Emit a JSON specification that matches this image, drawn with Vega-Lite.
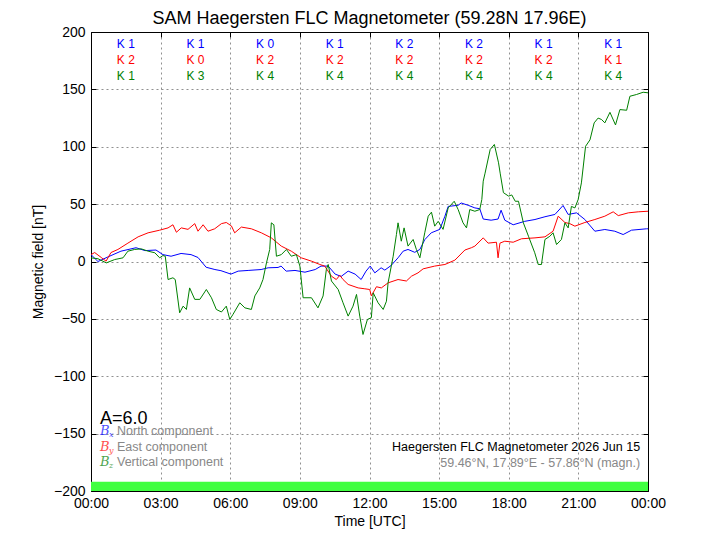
{
  "$schema": "https://vega.github.io/schema/vega-lite/v6.json",
  "width": 557,
  "height": 459,
  "autosize": "none",
  "padding": {"left": 91, "top": 32, "right": 72, "bottom": 49},
  "background": "#ffffff",
  "title": {"text": "SAM Haegersten FLC Magnetometer (59.28N 17.96E)", "fontSize": 18, "fontWeight": "normal", "font": "Liberation Sans", "color": "#000000", "offset": -3, "anchor": "middle"},
  "config": {
    "view": {"stroke": "#000000", "strokeWidth": 1},
    "font": "Liberation Sans",
    "axis": {"labelFont": "Liberation Sans", "titleFont": "Liberation Sans", "labelColor": "#000000", "titleColor": "#000000", "titleFontWeight": "normal"}
  },
  "datasets": {
    "bar": [{"t0": 0, "t1": 24, "v0": -200, "v1": -192}],
    "lines": [
      {"c": "Bx", "t": 0.0, "v": 6}, {"c": "Bx", "t": 0.3, "v": 0}, {"c": "Bx", "t": 0.73, "v": 4}, {"c": "Bx", "t": 1.29, "v": 9}, {"c": "Bx", "t": 1.94, "v": 12}, {"c": "Bx", "t": 2.33, "v": 9.5}, {"c": "Bx", "t": 2.8, "v": 10}, {"c": "Bx", "t": 3.1, "v": 6}, {"c": "Bx", "t": 3.45, "v": 4.6}, {"c": "Bx", "t": 3.88, "v": 7}, {"c": "Bx", "t": 4.31, "v": 6}, {"c": "Bx", "t": 4.61, "v": 3.5}, {"c": "Bx", "t": 4.96, "v": -5}, {"c": "Bx", "t": 5.34, "v": -7}, {"c": "Bx", "t": 5.6, "v": -8}, {"c": "Bx", "t": 6.03, "v": -11}, {"c": "Bx", "t": 6.34, "v": -8.4}, {"c": "Bx", "t": 6.77, "v": -7.8}, {"c": "Bx", "t": 7.33, "v": -7}, {"c": "Bx", "t": 7.63, "v": -5.5}, {"c": "Bx", "t": 8.06, "v": -5.2}, {"c": "Bx", "t": 8.19, "v": -4}, {"c": "Bx", "t": 8.41, "v": -8.4}, {"c": "Bx", "t": 8.79, "v": -7.8}, {"c": "Bx", "t": 9.22, "v": -9.3}, {"c": "Bx", "t": 9.66, "v": -7}, {"c": "Bx", "t": 9.91, "v": -4}, {"c": "Bx", "t": 10.22, "v": -4}, {"c": "Bx", "t": 10.52, "v": -11}, {"c": "Bx", "t": 10.78, "v": -13}, {"c": "Bx", "t": 11.08, "v": -8.4}, {"c": "Bx", "t": 11.38, "v": -11}, {"c": "Bx", "t": 11.64, "v": -15.7}, {"c": "Bx", "t": 11.85, "v": -8.4}, {"c": "Bx", "t": 12.03, "v": -4}, {"c": "Bx", "t": 12.23, "v": -9.9}, {"c": "Bx", "t": 12.5, "v": -5.5}, {"c": "Bx", "t": 12.66, "v": -7.5}, {"c": "Bx", "t": 12.93, "v": -3.5}, {"c": "Bx", "t": 13.23, "v": 3.2}, {"c": "Bx", "t": 13.45, "v": 9}, {"c": "Bx", "t": 13.66, "v": 10.5}, {"c": "Bx", "t": 13.95, "v": 8}, {"c": "Bx", "t": 14.17, "v": 10.5}, {"c": "Bx", "t": 14.38, "v": 19}, {"c": "Bx", "t": 14.66, "v": 25}, {"c": "Bx", "t": 15.03, "v": 28}, {"c": "Bx", "t": 15.25, "v": 39.5}, {"c": "Bx", "t": 15.39, "v": 48}, {"c": "Bx", "t": 15.82, "v": 49}, {"c": "Bx", "t": 15.95, "v": 51}, {"c": "Bx", "t": 16.25, "v": 49}, {"c": "Bx", "t": 16.54, "v": 46.7}, {"c": "Bx", "t": 16.75, "v": 46}, {"c": "Bx", "t": 16.9, "v": 37}, {"c": "Bx", "t": 17.24, "v": 36}, {"c": "Bx", "t": 17.54, "v": 37}, {"c": "Bx", "t": 17.67, "v": 44.7}, {"c": "Bx", "t": 17.83, "v": 36}, {"c": "Bx", "t": 18.19, "v": 32}, {"c": "Bx", "t": 18.69, "v": 35}, {"c": "Bx", "t": 19.13, "v": 36.6}, {"c": "Bx", "t": 19.56, "v": 39}, {"c": "Bx", "t": 19.99, "v": 41}, {"c": "Bx", "t": 20.34, "v": 48.8}, {"c": "Bx", "t": 20.56, "v": 41}, {"c": "Bx", "t": 20.92, "v": 42.4}, {"c": "Bx", "t": 21.28, "v": 36.6}, {"c": "Bx", "t": 21.71, "v": 26.4}, {"c": "Bx", "t": 22.14, "v": 27.9}, {"c": "Bx", "t": 22.57, "v": 26.4}, {"c": "Bx", "t": 22.93, "v": 23.5}, {"c": "Bx", "t": 23.29, "v": 27.3}, {"c": "Bx", "t": 23.94, "v": 28.5}, {"c": "Bx", "t": 24.0, "v": 28.5},
      {"c": "By", "t": 0.0, "v": 6}, {"c": "By", "t": 0.16, "v": 7.8}, {"c": "By", "t": 0.44, "v": 3.5}, {"c": "By", "t": 0.65, "v": 0.3}, {"c": "By", "t": 0.86, "v": 7.8}, {"c": "By", "t": 1.16, "v": 10.5}, {"c": "By", "t": 1.59, "v": 16}, {"c": "By", "t": 2.03, "v": 21.5}, {"c": "By", "t": 2.46, "v": 25}, {"c": "By", "t": 2.96, "v": 27.3}, {"c": "By", "t": 3.32, "v": 29.3}, {"c": "By", "t": 3.53, "v": 32}, {"c": "By", "t": 3.68, "v": 25.5}, {"c": "By", "t": 3.89, "v": 29.3}, {"c": "By", "t": 4.18, "v": 28}, {"c": "By", "t": 4.47, "v": 33}, {"c": "By", "t": 4.61, "v": 26.4}, {"c": "By", "t": 4.83, "v": 32}, {"c": "By", "t": 5.04, "v": 26.4}, {"c": "By", "t": 5.33, "v": 28.5}, {"c": "By", "t": 5.62, "v": 33}, {"c": "By", "t": 5.83, "v": 34}, {"c": "By", "t": 6.05, "v": 31}, {"c": "By", "t": 6.19, "v": 25}, {"c": "By", "t": 6.48, "v": 30}, {"c": "By", "t": 6.91, "v": 28.5}, {"c": "By", "t": 7.34, "v": 25}, {"c": "By", "t": 7.77, "v": 20.6}, {"c": "By", "t": 8.2, "v": 13.4}, {"c": "By", "t": 8.63, "v": 9}, {"c": "By", "t": 9.06, "v": 3.2}, {"c": "By", "t": 9.5, "v": 0.3}, {"c": "By", "t": 9.86, "v": -2.6}, {"c": "By", "t": 10.07, "v": -4}, {"c": "By", "t": 10.36, "v": -12.8}, {"c": "By", "t": 10.57, "v": -15.7}, {"c": "By", "t": 10.72, "v": -12}, {"c": "By", "t": 10.86, "v": -15.7}, {"c": "By", "t": 11.08, "v": -20}, {"c": "By", "t": 11.51, "v": -23}, {"c": "By", "t": 11.8, "v": -23.8}, {"c": "By", "t": 12.01, "v": -24.4}, {"c": "By", "t": 12.08, "v": -30}, {"c": "By", "t": 12.3, "v": -22}, {"c": "By", "t": 12.51, "v": -23}, {"c": "By", "t": 12.8, "v": -18.6}, {"c": "By", "t": 13.23, "v": -15.7}, {"c": "By", "t": 13.59, "v": -17}, {"c": "By", "t": 13.81, "v": -12.8}, {"c": "By", "t": 14.09, "v": -9.9}, {"c": "By", "t": 14.31, "v": -6.4}, {"c": "By", "t": 14.81, "v": -4}, {"c": "By", "t": 15.25, "v": -2.6}, {"c": "By", "t": 15.68, "v": 1.2}, {"c": "By", "t": 16.11, "v": 10}, {"c": "By", "t": 16.39, "v": 12}, {"c": "By", "t": 16.54, "v": 13.4}, {"c": "By", "t": 16.9, "v": 20.6}, {"c": "By", "t": 17.11, "v": 16}, {"c": "By", "t": 17.47, "v": 16.8}, {"c": "By", "t": 17.54, "v": 3.2}, {"c": "By", "t": 17.62, "v": 16}, {"c": "By", "t": 17.83, "v": 17.7}, {"c": "By", "t": 18.19, "v": 16.8}, {"c": "By", "t": 18.55, "v": 19.8}, {"c": "By", "t": 19.13, "v": 20.6}, {"c": "By", "t": 19.56, "v": 21.5}, {"c": "By", "t": 19.91, "v": 26.4}, {"c": "By", "t": 20.13, "v": 39.5}, {"c": "By", "t": 20.42, "v": 34}, {"c": "By", "t": 20.63, "v": 33}, {"c": "By", "t": 20.85, "v": 30.8}, {"c": "By", "t": 21.28, "v": 34}, {"c": "By", "t": 21.71, "v": 36.6}, {"c": "By", "t": 22.14, "v": 39.5}, {"c": "By", "t": 22.5, "v": 43.3}, {"c": "By", "t": 22.72, "v": 40}, {"c": "By", "t": 23.15, "v": 42.4}, {"c": "By", "t": 23.58, "v": 43.3}, {"c": "By", "t": 24.0, "v": 43.8},
      {"c": "Bz", "t": 0.0, "v": 3.2}, {"c": "Bz", "t": 0.3, "v": 2.4}, {"c": "Bz", "t": 0.66, "v": -1.2}, {"c": "Bz", "t": 1.02, "v": 1.7}, {"c": "Bz", "t": 1.38, "v": 3.2}, {"c": "Bz", "t": 1.59, "v": 9}, {"c": "Bz", "t": 1.88, "v": 10.5}, {"c": "Bz", "t": 2.17, "v": 11}, {"c": "Bz", "t": 2.46, "v": 9}, {"c": "Bz", "t": 2.75, "v": 7.6}, {"c": "Bz", "t": 2.96, "v": 3.2}, {"c": "Bz", "t": 3.1, "v": 5.2}, {"c": "Bz", "t": 3.2, "v": 4.6}, {"c": "Bz", "t": 3.32, "v": -15.7}, {"c": "Bz", "t": 3.53, "v": -14.2}, {"c": "Bz", "t": 3.63, "v": -15.7}, {"c": "Bz", "t": 3.82, "v": -44.7}, {"c": "Bz", "t": 3.97, "v": -38.9}, {"c": "Bz", "t": 4.11, "v": -41.8}, {"c": "Bz", "t": 4.25, "v": -23}, {"c": "Bz", "t": 4.47, "v": -33}, {"c": "Bz", "t": 4.69, "v": -33}, {"c": "Bz", "t": 4.97, "v": -24.4}, {"c": "Bz", "t": 5.19, "v": -31.6}, {"c": "Bz", "t": 5.4, "v": -41.8}, {"c": "Bz", "t": 5.62, "v": -44}, {"c": "Bz", "t": 5.83, "v": -38.9}, {"c": "Bz", "t": 5.98, "v": -50.5}, {"c": "Bz", "t": 6.12, "v": -46}, {"c": "Bz", "t": 6.41, "v": -36}, {"c": "Bz", "t": 6.63, "v": -40.4}, {"c": "Bz", "t": 6.91, "v": -41.8}, {"c": "Bz", "t": 7.06, "v": -30}, {"c": "Bz", "t": 7.27, "v": -23}, {"c": "Bz", "t": 7.41, "v": -15.7}, {"c": "Bz", "t": 7.56, "v": -1.2}, {"c": "Bz", "t": 7.7, "v": 10.5}, {"c": "Bz", "t": 7.77, "v": 33.7}, {"c": "Bz", "t": 7.88, "v": 32}, {"c": "Bz", "t": 7.99, "v": 4.6}, {"c": "Bz", "t": 8.2, "v": 6}, {"c": "Bz", "t": 8.42, "v": 10.5}, {"c": "Bz", "t": 8.63, "v": 4.6}, {"c": "Bz", "t": 8.85, "v": 6}, {"c": "Bz", "t": 9.0, "v": -4}, {"c": "Bz", "t": 9.14, "v": -31.6}, {"c": "Bz", "t": 9.5, "v": -31.6}, {"c": "Bz", "t": 9.78, "v": -40.4}, {"c": "Bz", "t": 10.0, "v": -30}, {"c": "Bz", "t": 10.14, "v": -7}, {"c": "Bz", "t": 10.22, "v": -2.6}, {"c": "Bz", "t": 10.36, "v": -17}, {"c": "Bz", "t": 10.65, "v": -24.4}, {"c": "Bz", "t": 10.86, "v": -36}, {"c": "Bz", "t": 11.08, "v": -47.6}, {"c": "Bz", "t": 11.29, "v": -38.9}, {"c": "Bz", "t": 11.44, "v": -28.7}, {"c": "Bz", "t": 11.58, "v": -47.6}, {"c": "Bz", "t": 11.72, "v": -63.6}, {"c": "Bz", "t": 11.91, "v": -50.5}, {"c": "Bz", "t": 12.08, "v": -49}, {"c": "Bz", "t": 12.16, "v": -27.3}, {"c": "Bz", "t": 12.37, "v": -36}, {"c": "Bz", "t": 12.59, "v": -41.8}, {"c": "Bz", "t": 12.73, "v": -34.6}, {"c": "Bz", "t": 12.8, "v": -18.6}, {"c": "Bz", "t": 13.02, "v": 4.6}, {"c": "Bz", "t": 13.16, "v": 23.5}, {"c": "Bz", "t": 13.23, "v": 33.7}, {"c": "Bz", "t": 13.37, "v": 17.7}, {"c": "Bz", "t": 13.49, "v": 29.3}, {"c": "Bz", "t": 13.66, "v": 13.4}, {"c": "Bz", "t": 13.88, "v": 19.2}, {"c": "Bz", "t": 14.02, "v": 10.5}, {"c": "Bz", "t": 14.17, "v": 3.2}, {"c": "Bz", "t": 14.38, "v": 25}, {"c": "Bz", "t": 14.53, "v": 39.5}, {"c": "Bz", "t": 14.67, "v": 43}, {"c": "Bz", "t": 14.81, "v": 30.8}, {"c": "Bz", "t": 14.96, "v": 35}, {"c": "Bz", "t": 15.17, "v": 28}, {"c": "Bz", "t": 15.39, "v": 46.7}, {"c": "Bz", "t": 15.65, "v": 52.5}, {"c": "Bz", "t": 15.82, "v": 45.3}, {"c": "Bz", "t": 16.03, "v": 33.7}, {"c": "Bz", "t": 16.18, "v": 29.3}, {"c": "Bz", "t": 16.32, "v": 45.3}, {"c": "Bz", "t": 16.54, "v": 43.8}, {"c": "Bz", "t": 16.75, "v": 45.3}, {"c": "Bz", "t": 16.84, "v": 54}, {"c": "Bz", "t": 16.9, "v": 70}, {"c": "Bz", "t": 16.98, "v": 77}, {"c": "Bz", "t": 17.2, "v": 97.6}, {"c": "Bz", "t": 17.38, "v": 102}, {"c": "Bz", "t": 17.56, "v": 86}, {"c": "Bz", "t": 17.63, "v": 77}, {"c": "Bz", "t": 17.77, "v": 60}, {"c": "Bz", "t": 17.99, "v": 57}, {"c": "Bz", "t": 18.13, "v": 58}, {"c": "Bz", "t": 18.28, "v": 52.5}, {"c": "Bz", "t": 18.42, "v": 52.5}, {"c": "Bz", "t": 18.63, "v": 33.7}, {"c": "Bz", "t": 18.85, "v": 22}, {"c": "Bz", "t": 19.12, "v": 7.6}, {"c": "Bz", "t": 19.27, "v": -2.6}, {"c": "Bz", "t": 19.41, "v": -2.6}, {"c": "Bz", "t": 19.56, "v": 19.2}, {"c": "Bz", "t": 19.77, "v": 22}, {"c": "Bz", "t": 19.91, "v": 25}, {"c": "Bz", "t": 20.06, "v": 14.8}, {"c": "Bz", "t": 20.27, "v": 19.2}, {"c": "Bz", "t": 20.42, "v": 33.7}, {"c": "Bz", "t": 20.56, "v": 29.3}, {"c": "Bz", "t": 20.7, "v": 48}, {"c": "Bz", "t": 20.85, "v": 46.7}, {"c": "Bz", "t": 20.99, "v": 54}, {"c": "Bz", "t": 21.13, "v": 68.5}, {"c": "Bz", "t": 21.31, "v": 100.4}, {"c": "Bz", "t": 21.5, "v": 106}, {"c": "Bz", "t": 21.68, "v": 120.8}, {"c": "Bz", "t": 21.85, "v": 125}, {"c": "Bz", "t": 22.0, "v": 123.7}, {"c": "Bz", "t": 22.14, "v": 120.8}, {"c": "Bz", "t": 22.36, "v": 130}, {"c": "Bz", "t": 22.6, "v": 119}, {"c": "Bz", "t": 22.79, "v": 132.4}, {"c": "Bz", "t": 23.08, "v": 131.8}, {"c": "Bz", "t": 23.22, "v": 144}, {"c": "Bz", "t": 23.5, "v": 145.5}, {"c": "Bz", "t": 23.79, "v": 147.5}, {"c": "Bz", "t": 24.0, "v": 147}
    ],
    "klabels": [
      {"c": "Bx", "t": 1.5, "v": 189.6, "k": "K 1"}, {"c": "Bx", "t": 4.5, "v": 189.6, "k": "K 1"}, {"c": "Bx", "t": 7.5, "v": 189.6, "k": "K 0"}, {"c": "Bx", "t": 10.5, "v": 189.6, "k": "K 1"}, {"c": "Bx", "t": 13.5, "v": 189.6, "k": "K 2"}, {"c": "Bx", "t": 16.5, "v": 189.6, "k": "K 2"}, {"c": "Bx", "t": 19.5, "v": 189.6, "k": "K 1"}, {"c": "Bx", "t": 22.5, "v": 189.6, "k": "K 1"},
      {"c": "By", "t": 1.5, "v": 175.4, "k": "K 2"}, {"c": "By", "t": 4.5, "v": 175.4, "k": "K 0"}, {"c": "By", "t": 7.5, "v": 175.4, "k": "K 2"}, {"c": "By", "t": 10.5, "v": 175.4, "k": "K 2"}, {"c": "By", "t": 13.5, "v": 175.4, "k": "K 2"}, {"c": "By", "t": 16.5, "v": 175.4, "k": "K 2"}, {"c": "By", "t": 19.5, "v": 175.4, "k": "K 2"}, {"c": "By", "t": 22.5, "v": 175.4, "k": "K 1"},
      {"c": "Bz", "t": 1.5, "v": 161.4, "k": "K 1"}, {"c": "Bz", "t": 4.5, "v": 161.4, "k": "K 3"}, {"c": "Bz", "t": 7.5, "v": 161.4, "k": "K 4"}, {"c": "Bz", "t": 10.5, "v": 161.4, "k": "K 4"}, {"c": "Bz", "t": 13.5, "v": 161.4, "k": "K 4"}, {"c": "Bz", "t": 16.5, "v": 161.4, "k": "K 4"}, {"c": "Bz", "t": 19.5, "v": 161.4, "k": "K 4"}, {"c": "Bz", "t": 22.5, "v": 161.4, "k": "K 4"}
    ],
    "legB": [
      {"c": "Bx", "t": 0.39, "v": -148, "s": "x"},
      {"c": "By", "t": 0.39, "v": -161.6, "s": "y"},
      {"c": "Bz", "t": 0.39, "v": -175, "s": "z"}
    ],
    "legText": [
      {"t": 1.12, "v": -148, "txt": "North component"},
      {"t": 1.12, "v": -161.6, "txt": "East component"},
      {"t": 1.12, "v": -175, "txt": "Vertical component"}
    ],
    "blackText": [
      {"t": 23.66, "v": -162, "txt": "Haegersten FLC Magnetometer 2026 Jun 15"}
    ],
    "greyText": [
      {"t": 23.66, "v": -176, "txt": "59.46°N, 17.89°E - 57.86°N (magn.)"}
    ],
    "aText": [{"t": 0.39, "v": -137.5, "txt": "A=6.0"}]
  },
  "resolve": {"axis": {"x": "independent", "y": "independent"}},
  "layer": [
    {
      "data": {"name": "bar"},
      "mark": {"type": "rect", "color": "#40ff40"},
      "encoding": {
        "x": {"field": "t0", "type": "quantitative", "scale": {"domain": [0, 24], "nice": false, "zero": false},
              "axis": {"orient": "top", "values": [0, 3, 6, 9, 12, 15, 18, 21, 24], "labels": false, "title": null, "grid": false, "domain": false, "tickSize": -5, "tickColor": "#000000"}},
        "x2": {"field": "t1"},
        "y": {"field": "v0", "type": "quantitative", "scale": {"domain": [-200, 200], "nice": false, "zero": false},
              "axis": {"orient": "right", "values": [-200, -150, -100, -50, 0, 50, 100, 150, 200], "labels": false, "title": null, "grid": false, "domain": false, "tickSize": -5, "tickColor": "#000000"}},
        "y2": {"field": "v1"}
      }
    },
    {
      "data": {"name": "lines"},
      "mark": {"type": "line", "strokeWidth": 1, "interpolate": "linear"},
      "encoding": {
        "x": {"field": "t", "type": "quantitative", "scale": {"domain": [0, 24], "nice": false, "zero": false},
              "axis": {"orient": "bottom", "values": [0, 3, 6, 9, 12, 15, 18, 21, 24], "title": "Time [UTC]", "titleFontSize": 14, "titlePadding": 4,
                       "labelExpr": "(datum.value % 24 < 10 ? '0' : '') + (datum.value % 24) + ':00'", "labelFontSize": 14, "labelPadding": 10, "labelFlush": false,
                       "grid": true, "gridColor": "#000000", "gridOpacity": 0.55, "gridDash": [2, 3], "gridWidth": 0.8, "domain": false, "tickSize": -5, "tickColor": "#000000"}},
        "y": {"field": "v", "type": "quantitative", "scale": {"domain": [-200, 200], "nice": false, "zero": false},
              "axis": {"orient": "left", "values": [-200, -150, -100, -50, 0, 50, 100, 150, 200], "title": "Magnetic field [nT]", "titleFontSize": 14, "titlePadding": 8,
                       "labelFontSize": 14, "labelPadding": 11, "labelFlush": false,
                       "grid": true, "gridColor": "#000000", "gridOpacity": 0.55, "gridDash": [2, 3], "gridWidth": 0.8, "domain": false, "tickSize": -5, "tickColor": "#000000"}},
        "color": {"field": "c", "type": "nominal", "scale": {"domain": ["Bx", "By", "Bz"], "range": ["#0000ff", "#ff0000", "#008000"]}, "legend": null},
        "order": {"field": "t", "type": "quantitative"}
      }
    },
    {
      "data": {"name": "klabels"},
      "mark": {"type": "text", "fontSize": 12, "font": "Liberation Sans", "align": "center", "baseline": "middle"},
      "encoding": {
        "x": {"field": "t", "type": "quantitative", "axis": null},
        "y": {"field": "v", "type": "quantitative", "axis": null},
        "text": {"field": "k"},
        "color": {"field": "c", "type": "nominal", "scale": {"domain": ["Bx", "By", "Bz"], "range": ["#0000ff", "#ff0000", "#008000"]}, "legend": null}
      }
    },
    {
      "data": {"name": "legB"},
      "mark": {"type": "text", "fontSize": 13, "font": "DejaVu Serif", "fontStyle": "italic", "align": "left", "baseline": "middle", "opacity": 0.7},
      "encoding": {
        "x": {"field": "t", "type": "quantitative", "axis": null},
        "y": {"field": "v", "type": "quantitative", "axis": null},
        "text": {"value": "B"},
        "color": {"field": "c", "type": "nominal", "scale": {"domain": ["Bx", "By", "Bz"], "range": ["#0000ff", "#ff0000", "#008000"]}, "legend": null}
      }
    },
    {
      "data": {"name": "legB"},
      "mark": {"type": "text", "fontSize": 8, "font": "DejaVu Serif", "fontStyle": "italic", "align": "left", "baseline": "middle", "opacity": 0.7, "dx": 9, "dy": 4},
      "encoding": {
        "x": {"field": "t", "type": "quantitative", "axis": null},
        "y": {"field": "v", "type": "quantitative", "axis": null},
        "text": {"field": "s"},
        "color": {"field": "c", "type": "nominal", "scale": {"domain": ["Bx", "By", "Bz"], "range": ["#0000ff", "#ff0000", "#008000"]}, "legend": null}
      }
    },
    {
      "data": {"name": "legText"},
      "mark": {"type": "text", "fontSize": 12.5, "font": "Liberation Sans", "baseline": "middle", "align": "left", "color": "#888888"},
      "encoding": {
        "x": {"field": "t", "type": "quantitative", "axis": null},
        "y": {"field": "v", "type": "quantitative", "axis": null},
        "text": {"field": "txt"}
      }
    },
    {
      "data": {"name": "blackText"},
      "mark": {"type": "text", "fontSize": 12.5, "font": "Liberation Sans", "baseline": "middle", "align": "right", "color": "#000000"},
      "encoding": {
        "x": {"field": "t", "type": "quantitative", "axis": null},
        "y": {"field": "v", "type": "quantitative", "axis": null},
        "text": {"field": "txt"}
      }
    },
    {
      "data": {"name": "greyText"},
      "mark": {"type": "text", "fontSize": 12.5, "font": "Liberation Sans", "baseline": "middle", "align": "right", "color": "#888888"},
      "encoding": {
        "x": {"field": "t", "type": "quantitative", "axis": null},
        "y": {"field": "v", "type": "quantitative", "axis": null},
        "text": {"field": "txt"}
      }
    },
    {
      "data": {"name": "aText"},
      "mark": {"type": "text", "fontSize": 18, "font": "Liberation Sans", "baseline": "middle", "color": "#000000", "align": "left"},
      "encoding": {
        "x": {"field": "t", "type": "quantitative", "axis": null},
        "y": {"field": "v", "type": "quantitative", "axis": null},
        "text": {"field": "txt"}
      }
    }
  ]
}
